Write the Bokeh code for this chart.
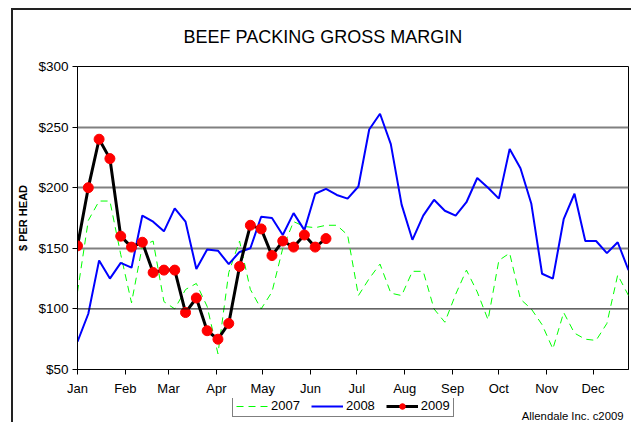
import numpy as np
from bokeh.plotting import figure
from bokeh.layouts import column
from bokeh.models import FixedTicker, Range1d, Legend, LegendItem, Span, Label
from bokeh.embed import file_html
from bokeh.resources import INLINE

# weekly observations, position = day of year of each week
week_day = list(range(0, 364, 7))

margin_2007 = [114, 173, 189, 189, 145, 105, 152, 156, 106, 100, 116, 121, 102, 63,
               130, 156, 116, 100, 114, 150, 172, 168, 167, 169, 169, 161, 111, 125,
               137, 113, 111, 131, 131, 100, 89, 112, 132, 114, 91, 140, 146, 108,
               100, 87, 67, 97, 80, 75, 74, 88, 128, 111]
margin_2008 = [73, 96, 140, 125, 138, 134, 177, 172, 164, 183, 172, 133, 149, 148,
               137, 147, 150, 176, 175, 161, 179, 165, 195, 199, 194, 191, 201, 248,
               261, 236, 186, 157, 177, 190, 181, 177, 188, 208, 200, 191, 232, 216,
               187, 129, 125, 174, 195, 156, 156, 146, 155, 132]
margin_2009 = [152, 200, 240, 224, 160, 151, 155, 130, 132, 132, 97, 109, 82, 75,
               88, 135, 169, 166, 144, 156, 151, 161, 151, 158]

month_start_day = [0, 31, 59, 90, 120, 151, 181, 212, 243, 273, 304, 334]
month_labels = ["Jan", "Feb", "Mar", "Apr", "May", "Jun",
                "Jul", "Aug", "Sep", "Oct", "Nov", "Dec"]
y_ticks = [50, 100, 150, 200, 250, 300]
y_labels = ["$50", "$100", "$150", "$200", "$250", "$300"]

FONT = "Liberation Sans"
W = 631
FRAME_L, FRAME_R = 77, 628

p = figure(width=W, height=398, output_backend="svg", toolbar_location=None,
           x_range=Range1d(week_day[0], week_day[-1]), y_range=Range1d(y_ticks[0], y_ticks[-1]),
           min_border_left=FRAME_L, min_border_right=W - FRAME_R, min_border_top=66,
           min_border_bottom=26, background_fill_color="white", border_fill_color=None)

p.title.text = "BEEF PACKING GROSS MARGIN"
p.title.align = "left"
p.title.offset = 106
p.title.standoff = 40
p.title.text_font = FONT
p.title.text_font_size = "18px"
p.title.text_font_style = "normal"
p.title.text_color = "black"

p.outline_line_color = "black"
p.outline_line_width = 1

xa = p.xaxis[0]
xa.ticker = FixedTicker(ticks=month_start_day)
xa.major_label_overrides = {d: m for d, m in zip(month_start_day, month_labels)}
xa.minor_tick_line_color = None
xa.major_tick_in = 0
xa.major_tick_out = 5
xa.axis_line_color = "black"
xa.major_tick_line_color = "black"
xa.major_label_text_font = FONT
xa.major_label_text_font_size = "13px"
xa.major_label_text_color = "black"
xa.major_label_standoff = 6

ya = p.yaxis[0]
ya.ticker = FixedTicker(ticks=y_ticks)
ya.major_label_overrides = {t: l for t, l in zip(y_ticks, y_labels)}
ya.minor_tick_line_color = None
ya.major_tick_in = 0
ya.major_tick_out = 5
ya.axis_line_color = "black"
ya.major_tick_line_color = "black"
ya.major_label_text_font = FONT
ya.major_label_text_font_size = "13.5px"
ya.major_label_text_color = "black"
ya.major_label_standoff = 4
ya.axis_label = "$ PER HEAD"
ya.axis_label_text_font = FONT
ya.axis_label_text_font_size = "11px"
ya.axis_label_text_font_style = "bold"
ya.axis_label_text_color = "black"
ya.axis_label_standoff = 6

p.xgrid.visible = False
p.ygrid.ticker = FixedTicker(ticks=y_ticks[2:5])
p.ygrid.grid_line_color = "#808080"
p.ygrid.grid_line_width = 2
p.add_layout(Span(location=y_ticks[1], dimension="width", line_color="black", line_width=1))

STY07 = dict(line_color="#00FF00", line_width=1, line_dash="7 5")
STY08 = dict(line_color="#0000FF", line_width=2)
STY09 = dict(line_color="black", line_width=3)
STY09M = dict(size=10, fill_color="#FF0000", line_color="#FF0000")

p.line(week_day, margin_2007, **STY07)
p.line(week_day, margin_2008, **STY08)
p.line(week_day[:len(margin_2009)], margin_2009, **STY09)
p.scatter(week_day[:len(margin_2009)], margin_2009, **STY09M)

# footer strip holding the legend and the credit line (its frame aligns with the chart frame)
f = figure(width=W, height=24, output_backend="svg", toolbar_location=None,
           x_range=Range1d(FRAME_L, FRAME_R), y_range=Range1d(0, 24),
           x_axis_location=None, y_axis_location=None, min_border=0,
           background_fill_color=None, border_fill_color=None, outline_line_color=None)
f.grid.visible = False
nan = np.array([np.nan])
g07 = f.line(nan, nan, **STY07)
g08 = f.line(nan, nan, **STY08)
g09l = f.line(nan, nan, **STY09)
g09m = f.scatter(nan, nan, **STY09M)

legend = Legend(items=[LegendItem(label="2007", renderers=[g07]),
                       LegendItem(label="2008", renderers=[g08]),
                       LegendItem(label="2009", renderers=[g09l, g09m])],
                orientation="horizontal", location=(232 - FRAME_L, 5))
legend.glyph_width = 32
legend.glyph_height = 14
legend.label_standoff = 3
legend.spacing = 11
legend.padding = 3
legend.margin = 0
legend.label_text_font = FONT
legend.label_text_font_size = "13px"
legend.label_text_color = "black"
legend.border_line_color = "black"
legend.border_line_width = 1
legend.background_fill_color = "white"
legend.background_fill_alpha = 1
f.add_layout(legend, "center")

f.add_layout(Label(x=623, y=7, text="Allendale Inc. c2009", text_align="right",
                   text_baseline="alphabetic", text_font=FONT, text_font_size="11.3px",
                   text_color="black"))

root = column(p, f, spacing=0)
root.styles = {"background": "linear-gradient(#222222, #222222) 11px 8px / 2px 420px no-repeat, "
                             "linear-gradient(#222222, #222222) 11px 8px / 620px 2px no-repeat, #ffffff"}

open("out.html", "w").write(file_html(root, INLINE))
